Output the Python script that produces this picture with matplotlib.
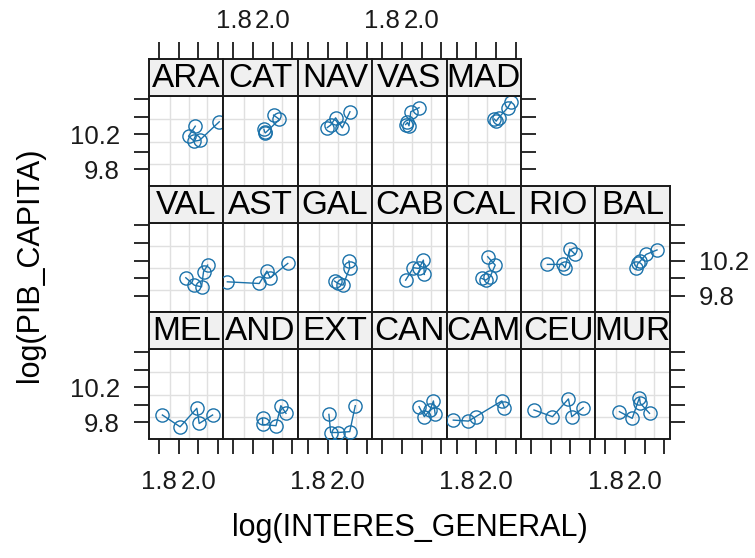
import matplotlib
matplotlib.use("Agg")
import matplotlib.pyplot as plt

plt.rcParams['font.family'] = ['Liberation Sans', 'DejaVu Sans']

regions = ["ARA", "CAT", "NAV", "VAS", "MAD",
           "VAL", "AST", "GAL", "CAB", "CAL", "RIO", "BAL",
           "MEL", "AND", "EXT", "CAN", "CAM", "CEU", "MUR"]

log_interes = [
    [1.984, 1.950, 1.979, 2.006, 2.106],   # ARA
    [1.955, 1.958, 1.962, 2.034, 2.004],   # CAT
    [1.899, 1.916, 1.941, 1.975, 2.014],   # NAV
    [1.919, 1.928, 1.936, 1.945, 1.987],   # VAS
    [1.992, 2.001, 2.013, 2.060, 2.077],   # MAD
    [1.936, 1.979, 2.016, 2.026, 2.047],   # VAL
    [1.769, 1.931, 1.970, 1.987, 2.076],   # AST
    [1.936, 1.953, 1.979, 2.013, 2.009],   # GAL
    [1.919, 1.958, 1.987, 2.009, 2.014],   # CAB
    [1.928, 1.948, 1.970, 1.996, 1.958],   # CAL
    [1.883, 1.960, 1.973, 1.997, 2.024],   # RIO
    [1.956, 1.965, 1.977, 2.007, 2.062],   # BAL
    [1.817, 1.907, 1.992, 2.004, 2.072],   # MEL
    [1.948, 1.948, 2.016, 2.041, 2.067],   # AND
    [1.907, 1.916, 1.953, 2.013, 2.041],   # EXT
    [1.987, 2.014, 2.043, 2.060, 2.069],   # CAN
    [1.783, 1.860, 1.897, 2.030, 2.043],   # CAM
    [1.815, 1.909, 1.990, 2.007, 2.065],   # CEU
    [1.871, 1.936, 1.973, 1.977, 2.024],   # MUR
]

log_pib = [
    [10.291, 10.177, 10.120, 10.131, 10.341],  # ARA
    [10.255, 10.228, 10.215, 10.368, 10.417],  # CAT
    [10.276, 10.303, 10.386, 10.272, 10.455],  # NAV
    [10.310, 10.333, 10.295, 10.455, 10.501],  # VAS
    [10.371, 10.348, 10.386, 10.501, 10.569],  # MAD
    [10.006, 9.922, 9.903, 10.074, 10.150],    # VAL
    [9.960, 9.941, 10.082, 10.006, 10.169],    # AST
    [9.968, 9.941, 9.922, 10.120, 10.196],     # GAL
    [9.979, 10.120, 10.112, 10.207, 10.044],   # CAB
    [9.998, 9.979, 10.017, 10.150, 10.245],    # CAL
    [10.158, 10.158, 10.120, 10.333, 10.272],  # RIO
    [10.112, 10.169, 10.196, 10.272, 10.322],  # BAL
    [9.884, 9.750, 9.960, 9.788, 9.884],       # MEL
    [9.846, 9.777, 9.762, 9.990, 9.903],       # AND
    [9.891, 9.685, 9.685, 9.695, 9.990],       # EXT
    [9.979, 9.865, 9.941, 10.044, 9.891],      # CAN
    [9.826, 9.815, 9.865, 10.044, 9.967],      # CAM
    [9.941, 9.865, 10.067, 9.865, 9.967],      # CEU
    [9.922, 9.846, 10.082, 10.017, 9.903],     # MUR
]

x_ticks = [1.8, 1.9, 2.0, 2.1]
x_tick_labels = ["1.8", "", "2.0", ""]
y_ticks = [9.8, 10.0, 10.2, 10.4, 10.6]
y_tick_labels = ["9.8", "", "10.2", "", ""]
x_grid = [1.856, 1.952, 2.046]
y_grid = [9.865, 10.112, 10.371]
x_limits = (1.749, 2.127)
y_limits = (9.617, 10.634)
row_counts = [5, 7, 7]

W, H = 755, 558
fig = plt.figure(figsize=(W / 100, H / 100), dpi=100)
fig.patch.set_facecolor("white")

left0 = 149.0
col_w = 74.4
row_tops = [59.0, 185.5, 312.0]
strip_h = 37.0
panel_h = 89.5

blue = "#1b72aa"
grid_c = "#e0e0e0"
tick_fs = 18.5
strip_fs = 24


def rect(x, y, w, h):
    return [x / W, 1 - (y + h) / H, w / W, h / H]


idx = 0
for r, n in enumerate(row_counts):
    for c in range(n):
        name = regions[idx]
        xs = log_interes[idx]
        ys = log_pib[idx]
        idx += 1
        x0 = left0 + c * col_w
        # panel
        ax = fig.add_axes(rect(x0, row_tops[r] + strip_h, col_w, panel_h))
        ax.set_xlim(*x_limits)
        ax.set_ylim(*y_limits)
        for gx in x_grid:
            ax.axvline(gx, color=grid_c, lw=1.0, zorder=0)
        for gy in y_grid:
            ax.axhline(gy, color=grid_c, lw=1.0, zorder=0)
        ax.plot(xs, ys, '-', color=blue, lw=1.0, zorder=2)
        ax.plot(xs, ys, 'o', mfc='none', mec=blue, ms=9.5, mew=1.0, zorder=3)
        for s in ax.spines.values():
            s.set_linewidth(1.4)
            s.set_color("#1a1a1a")
        ax.set_xticks(x_ticks)
        if r == 2 and c % 2 == 0:
            ax.set_xticklabels(x_tick_labels)
        else:
            ax.set_xticklabels([""] * len(x_ticks))
        ax.tick_params(axis='x', bottom=(r == 2), top=False, labelbottom=(r == 2),
                       direction='out', length=11, width=1.3, pad=12,
                       labelsize=tick_fs, colors="#1a1a1a")
        ax.set_yticks(y_ticks)
        ax.set_yticklabels(y_tick_labels)
        is_left = (c == 0)
        is_right = (c == n - 1)
        ax.tick_params(axis='y', left=is_left, right=is_right,
                       labelleft=(is_left and r != 1),
                       labelright=(is_right and r == 1),
                       direction='out', length=11, width=1.3, pad=10,
                       labelsize=tick_fs, colors="#1a1a1a")
        # strip
        sax = fig.add_axes(rect(x0, row_tops[r], col_w, strip_h))
        sax.set_facecolor("#f0f0f0")
        for s in sax.spines.values():
            s.set_linewidth(1.4)
            s.set_color("#1a1a1a")
        sax.set_xlim(*x_limits)
        sax.set_yticks([])
        sax.text(0.5, 0.46, name, transform=sax.transAxes, ha='center',
                 va='center', fontsize=strip_fs, color="black")
        if r == 0:
            sax.xaxis.set_ticks_position('top')
            sax.set_xticks(x_ticks)
            if c % 2 == 1:
                sax.set_xticklabels(x_tick_labels)
            else:
                sax.set_xticklabels([""] * len(x_ticks))
            sax.tick_params(axis='x', top=True, bottom=False, labeltop=True,
                            labelbottom=False, direction='out', length=12,
                            width=1.3, pad=7, labelsize=tick_fs,
                            colors="#1a1a1a")
        else:
            sax.set_xticks([])

fig.text(410 / W, 1 - 528 / H, "log(INTERES_GENERAL)", ha='center',
         va='center', fontsize=22)
fig.text(30 / W, 1 - 265 / H, "log(PIB_CAPITA)", ha='center', va='center',
         rotation=90, fontsize=22)

fig.savefig("out.png", dpi=100)
